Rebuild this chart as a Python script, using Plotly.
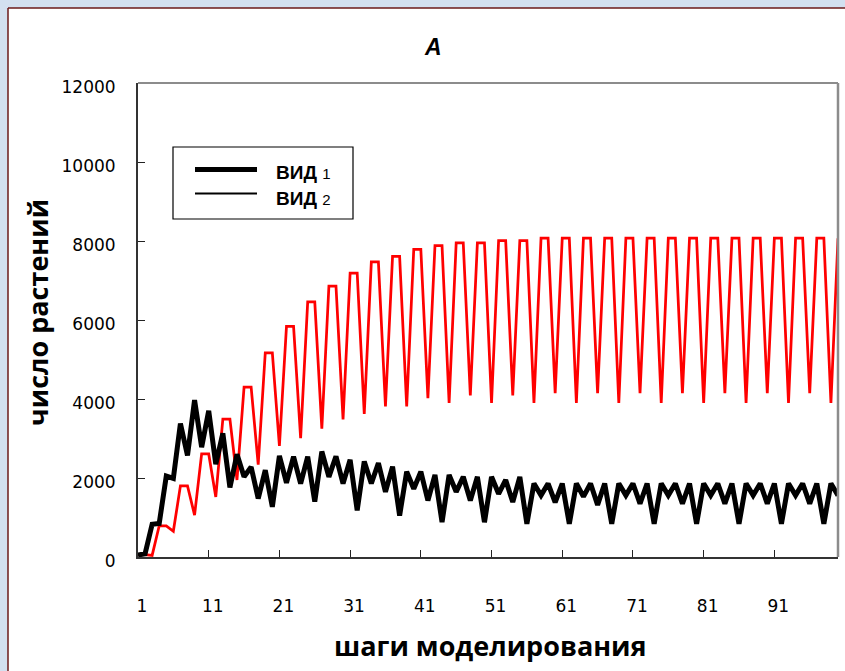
import plotly.graph_objects as go

# Simulation steps
steps = list(range(1, 101))

# Number of plants per step, species 1
vid1 = [50, 80, 830, 850, 2050, 1990, 3380, 2570, 3970, 2780,
        3700, 2350, 3130, 1760, 2600, 2030, 2280, 1480, 2200, 1270,
        2560, 1880, 2540, 1860, 2540, 1400, 2670, 2030, 2550, 1860,
        2460, 1180, 2420, 1860, 2380, 1650, 2290, 1050, 2160, 1730,
        2160, 1430, 2080, 880, 2080, 1650, 2030, 1430, 2030, 880,
        2030, 1600, 1950, 1390, 2030, 840, 1860, 1560, 1860, 1380,
        1860, 840, 1860, 1530, 1860, 1320, 1860, 840, 1860, 1560,
        1860, 1350, 1860, 840, 1860, 1560, 1860, 1350, 1860, 840,
        1860, 1560, 1860, 1350, 1860, 840, 1860, 1560, 1860, 1350,
        1860, 840, 1860, 1560, 1860, 1350, 1860, 840, 1860, 1560]

# Number of plants per step, species 2
vid2 = [60, 60, 40, 790, 790, 650, 1800, 1800, 1060, 2610,
        2610, 1520, 3490, 3490, 1950, 4300, 4300, 2340, 5170, 5170,
        2810, 5840, 5840, 3010, 6460, 6460, 3250, 6860, 6860, 3480,
        7190, 7190, 3620, 7470, 7470, 3810, 7610, 7610, 3810, 7790,
        7790, 4020, 7880, 7880, 3900, 7950, 7950, 4090, 7950, 7950,
        3900, 8010, 8010, 4090, 8010, 8010, 3900, 8070, 8070, 4150,
        8070, 8070, 3900, 8070, 8070, 4150, 8070, 8070, 3900, 8070,
        8070, 4150, 8070, 8070, 3900, 8070, 8070, 4150, 8070, 8070,
        3900, 8070, 8070, 4150, 8070, 8070, 3900, 8070, 8070, 4150,
        8070, 8070, 3900, 8070, 8070, 4150, 8070, 8070, 3900, 8070]

x_ticks = [1, 11, 21, 31, 41, 51, 61, 71, 81, 91]
y_ticks = [0, 2000, 4000, 6000, 8000, 10000, 12000]

W, H = 845, 671
L, R, T, B = 138, 838, 83, 557   # plot area in pixels


def px(x):
    return (x - L) / (R - L)


def py(y):
    return (B - y) / (B - T)


fig = go.Figure()
fig.add_trace(go.Scatter(x=steps, y=vid2, mode="lines", name="ВИД 2",
                         line=dict(color="#ff0000", width=2.75),
                         showlegend=False))
fig.add_trace(go.Scatter(x=steps, y=vid1, mode="lines", name="ВИД 1",
                         line=dict(color="#000000", width=5),
                         showlegend=False))

shapes = []
blue = "#d3e0f0"
frame = "#6b1a1a"
# page frame
shapes.append(dict(type="rect", xref="paper", yref="paper", layer="below",
                   x0=px(0), x1=px(W + 2), y0=py(0), y1=py(8),
                   fillcolor=blue, line=dict(width=0)))
shapes.append(dict(type="rect", xref="paper", yref="paper", layer="below",
                   x0=px(0), x1=px(8), y0=py(0), y1=py(H + 2),
                   fillcolor=blue, line=dict(width=0)))
shapes.append(dict(type="line", xref="paper", yref="paper",
                   x0=px(8), x1=px(8), y0=py(8), y1=py(H + 2),
                   line=dict(color=frame, width=1.5)))
shapes.append(dict(type="line", xref="paper", yref="paper",
                   x0=px(8), x1=px(W + 2), y0=py(8), y1=py(8),
                   line=dict(color=frame, width=1.5)))
# plot area top and right edges
shapes.append(dict(type="line", xref="paper", yref="paper",
                   x0=0, x1=1, y0=1, y1=1,
                   line=dict(color="#8c8c8c", width=2)))
shapes.append(dict(type="line", xref="paper", yref="paper",
                   x0=1, x1=1, y0=0, y1=1,
                   line=dict(color="#8c8c8c", width=2.5)))
# legend box and samples
shapes.append(dict(type="rect", xref="paper", yref="paper",
                   x0=px(173), x1=px(353), y0=py(219), y1=py(147),
                   fillcolor="white", line=dict(color="black", width=1.2)))
shapes.append(dict(type="line", xref="paper", yref="paper",
                   x0=px(195), x1=px(257), y0=py(169.5), y1=py(169.5),
                   line=dict(color="black", width=5)))
shapes.append(dict(type="line", xref="paper", yref="paper",
                   x0=px(195), x1=px(257), y0=py(193.5), y1=py(193.5),
                   line=dict(color="black", width=2)))

title_font = dict(family="Open Sans", size=27, color="black", weight=700)

annotations = [
    dict(text="<b><i>A</i></b>", x=px(433), y=py(47), xref="paper", yref="paper",
         showarrow=False, xanchor="center", yanchor="middle",
         font=dict(family="Liberation Sans", size=23, color="black")),
    dict(text="шаги моделирования", x=px(490), y=py(645), xref="paper",
         yref="paper", showarrow=False, xanchor="center", yanchor="middle",
         font=title_font),
    dict(text="число растений", x=px(37), y=py(313), xref="paper",
         yref="paper", showarrow=False, xanchor="center", yanchor="middle",
         textangle=-90, font=title_font),
    dict(text="<b>ВИД</b> <span style='font-size:15px'>1</span>", x=px(274), y=py(172),
         xref="paper", yref="paper", showarrow=False, xanchor="left",
         yanchor="middle",
         font=dict(family="Liberation Sans", size=19, color="black")),
    dict(text="<b>ВИД</b> <span style='font-size:15px'>2</span>", x=px(274), y=py(198),
         xref="paper", yref="paper", showarrow=False, xanchor="left",
         yanchor="middle",
         font=dict(family="Liberation Sans", size=19, color="black")),
]

fig.update_layout(
    width=W, height=H,
    margin=dict(l=L, r=W - R, t=T, b=H - B, pad=0),
    paper_bgcolor="white", plot_bgcolor="white",
    shapes=shapes, annotations=annotations,
    showlegend=False,
    xaxis=dict(range=[1, 100], tickvals=x_ticks,
               ticktext=[str(v) for v in x_ticks],
               ticks="inside", ticklen=7, tickwidth=1.2, tickcolor="#222",
               showline=True, linecolor="#333", linewidth=2,
               showgrid=False, zeroline=False,
               ticklabelstandoff=33, ticklabelshift=4,
               tickfont=dict(family="DejaVu Sans", size=17, color="black")),
    yaxis=dict(range=[0, 12000], tickvals=y_ticks,
               ticktext=[str(v) for v in y_ticks],
               ticks="inside", ticklen=7, tickwidth=1.2, tickcolor="#222",
               showline=True, linecolor="#333", linewidth=2,
               showgrid=False, zeroline=False,
               ticklabelstandoff=17, ticklabelshift=4,
               tickfont=dict(family="DejaVu Sans", size=17, color="black")),
)

fig.write_html("out.html")
